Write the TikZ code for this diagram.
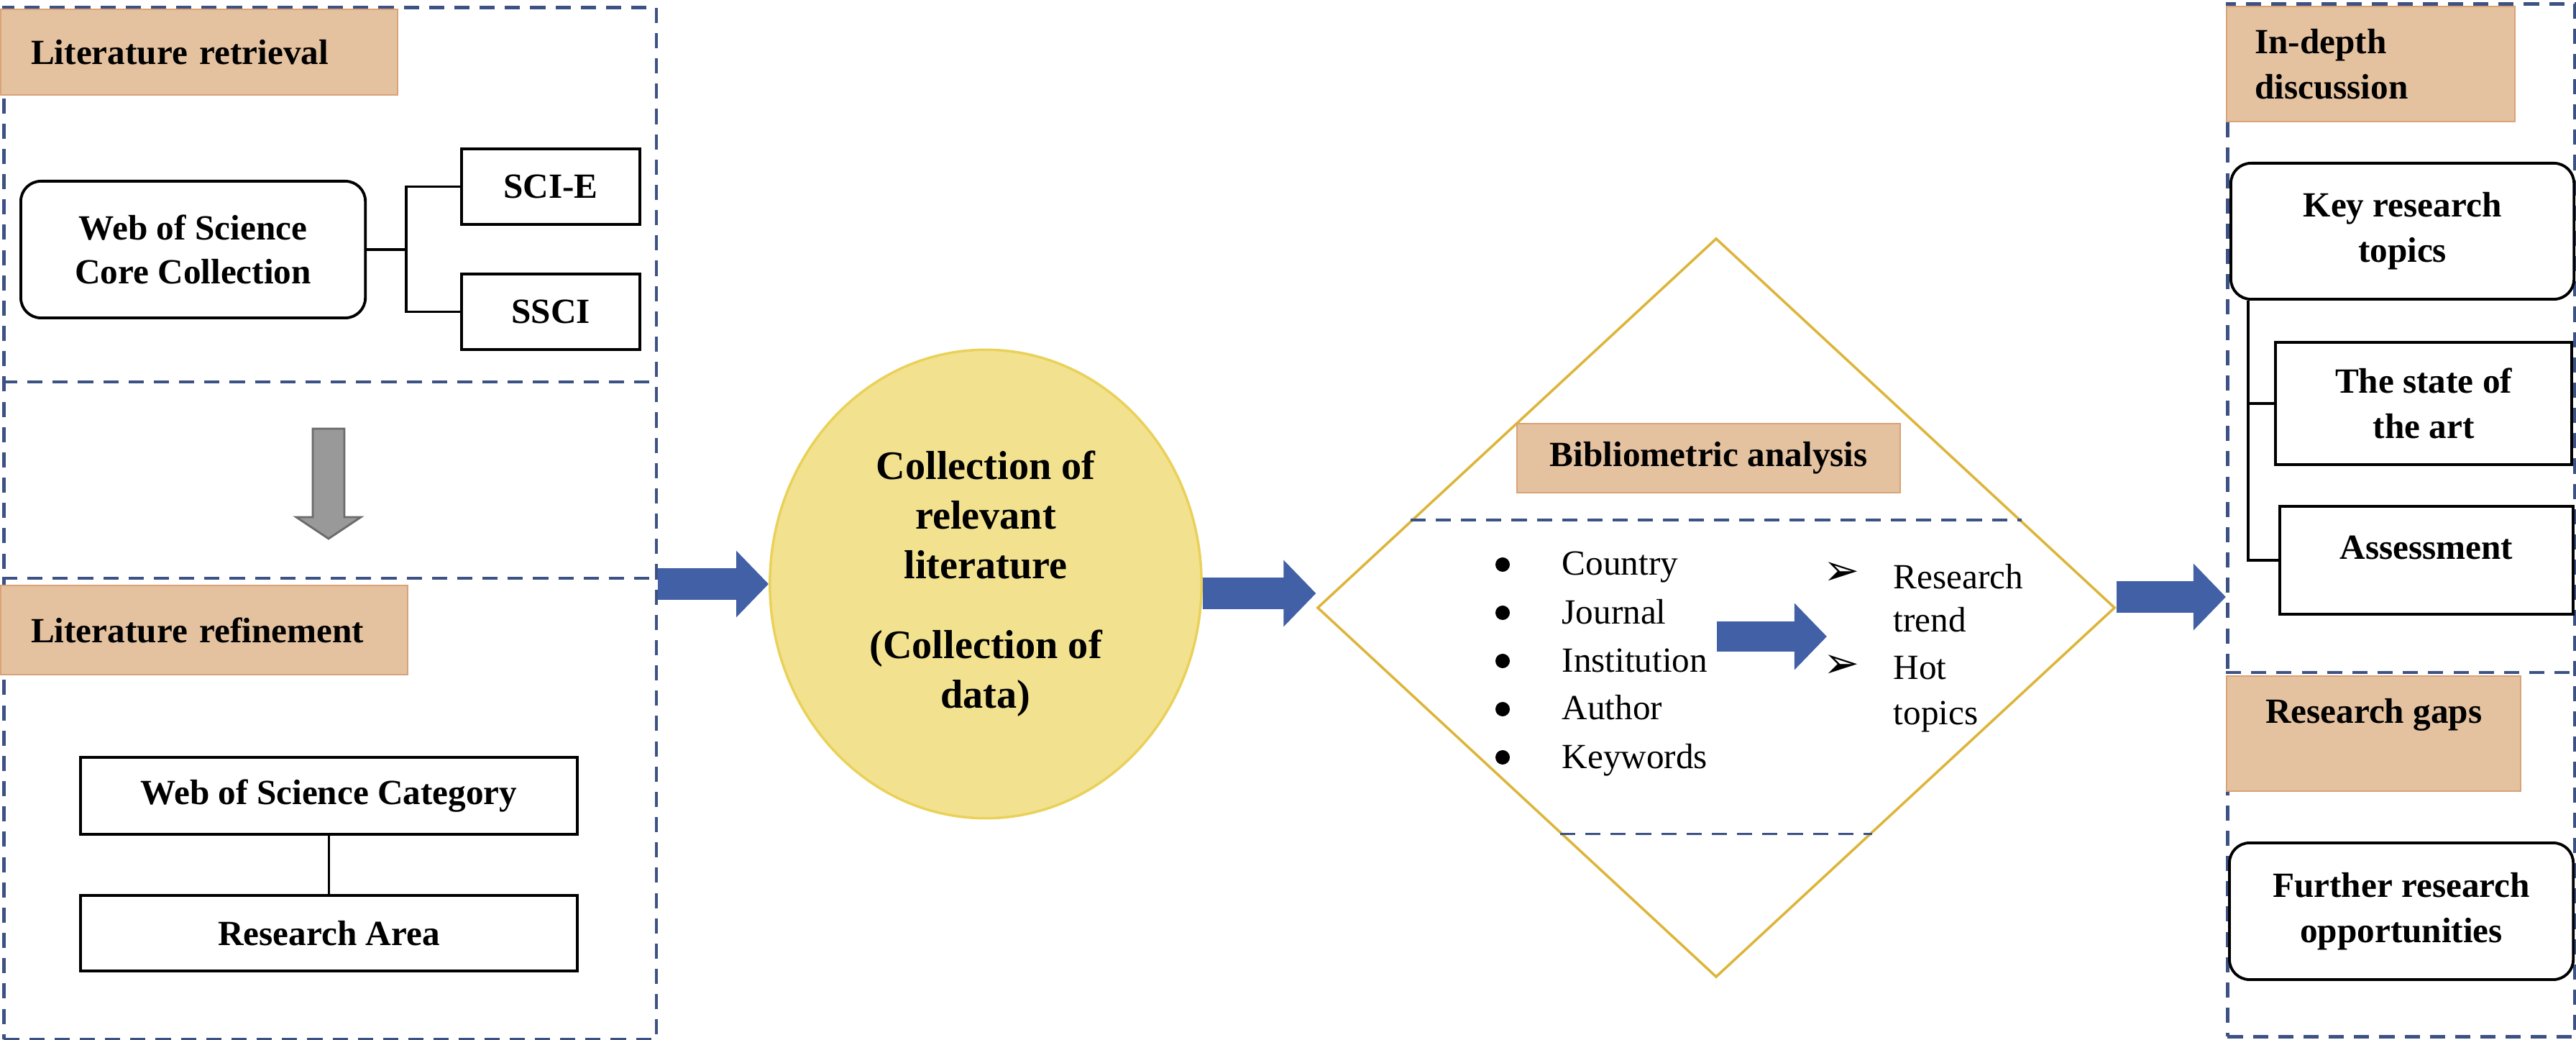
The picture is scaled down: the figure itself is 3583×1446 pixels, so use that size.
\documentclass[tikz,border=0pt]{standalone}
\usepackage{fontspec}
\setmainfont{Liberation Serif}
\newfontfamily\symfont{DejaVu Sans}
\usetikzlibrary{arrows.meta, shapes.geometric, calc}
\definecolor{tanfill}{HTML}{E5C29F}
\definecolor{tanline}{HTML}{D9A277}
\definecolor{dashblue}{HTML}{3D5284}
\definecolor{arrowblue}{HTML}{4260A5}
\definecolor{sunfill}{HTML}{F2E290}
\definecolor{sunline}{HTML}{EAD15A}
\definecolor{diamline}{HTML}{DDB53A}
\definecolor{arrowgray}{HTML}{999999}
\newcommand{\boxfont}{\fontsize{14}{18}\selectfont\bfseries}

\begin{document}
\begin{tikzpicture}[x=0.01cm, y=-0.01cm,
    panelbox/.style={draw=dashblue, line width=1.4pt, dash pattern=on 6pt off 4pt, inner sep=0, anchor=north west},
    splitline/.style={dashblue, line width=1.4pt, dash pattern=on 6pt off 4pt},
    tanbox/.style={draw=tanline, fill=tanfill, line width=0.6pt, inner sep=0, anchor=north west, font=\boxfont},
    plainbox/.style={draw=black, line width=1.1pt, inner sep=0, anchor=north west, align=center, font=\boxfont},
    roundbox/.style={plainbox, rounded corners=0.28cm},
    bigarrow/.style={arrowblue, line width=0.44cm, -{Triangle[length=0.45cm, width=0.9cm]}},
    listtext/.style={font=\fontsize{14}{18}\selectfont, inner sep=0, anchor=base west},
    bulletdot/.style={circle, fill=black, inner sep=0, minimum size=0.2cm},
    linkline/.style={line width=1pt}
  ]
  \useasboundingbox (0,0) rectangle (3583,1446);

  % Left panel: retrieval and refinement
  \node[panelbox, minimum width=9.07cm, minimum height=14.34cm] (panelL) at (3,8) {};
  \draw[splitline] (3,531) -- (910,531);
  \draw[splitline] (3,804) -- (910,804);

  \node[tanbox, minimum width=5.52cm, minimum height=1.19cm, text width=4.68cm, inner xsep=0.42cm, align=left] (litret) at (0,12) {Literature retrieval};
  \node[roundbox, minimum width=4.79cm, minimum height=1.90cm, font=\fontsize{14}{17.5}\selectfont\bfseries] (wos) at (27,250) {Web of Science\\Core Collection};
  \node[plainbox, minimum width=2.48cm, minimum height=1.05cm] (scie) at (640,205) {SCI-E};
  \node[plainbox, minimum width=2.48cm, minimum height=1.05cm] (ssci) at (640,379) {SSCI};
  \draw[linkline] (wos.east) -- ++(55,0) coordinate (fork);
  \draw[linkline] (scie.west) -| (fork) |- (ssci.west);

  % Grey arrow between the two steps
  \draw[draw=arrowgray!70!black, fill=arrowgray, line width=0.8pt] (435,596) -- (479,596) -- (479,719) -- (502,719) -- (457,749) -- (412,719) -- (435,719) -- cycle;

  \node[tanbox, minimum width=5.66cm, minimum height=1.24cm, text width=4.82cm, inner xsep=0.42cm, align=left] (litref) at (0,813) {Literature refinement};
  \node[plainbox, minimum width=6.91cm, minimum height=1.07cm] (wosc) at (110,1051) {Web of Science Category};
  \node[plainbox, minimum width=6.91cm, minimum height=1.05cm] (resarea) at (110,1243) {Research Area};
  \draw[linkline] (wosc) -- (resarea);

  % Collected data
  \node[ellipse, draw=sunline, fill=sunfill, line width=1pt, minimum width=6cm, minimum height=6.51cm, inner sep=0, align=center, font=\fontsize{16}{19.6}\selectfont\bfseries] (collect) at (1371,812) {Collection of\\relevant\\literature\\[12pt](Collection of\\data)};

  % Bibliometric analysis diamond
  \node[diamond, draw=diamline, line width=1pt, minimum width=11.09cm, minimum height=10.27cm, inner sep=0] (diam) at (2387,845) {};
  \node[tanbox, minimum width=5.33cm, minimum height=0.96cm] (biblio) at (2109,588) {Bibliometric analysis};
  \draw[splitline, line width=1.1pt] ($(diam.north)!0.764!(diam.west)$) -- ($(diam.north)!0.764!(diam.east)$);
  \draw[splitline, line width=1.1pt] ($(diam.south)!0.39!(diam.west)$) -- ($(diam.south)!0.39!(diam.east)$);

  \foreach \w [count=\i] in {Country,Journal,Institution,Author,Keywords} {
    \node[bulletdot] (dot\i) at (2090, {785+67*(\i-1)}) {};
    \node[listtext] (item\i) at (2172, {800+67*(\i-1)}) {\w};
  }
  \coordinate (listout) at (2388,885);
  \coordinate (trendin) at (2541,885);
  \draw[bigarrow, line width=0.42cm] (listout) -- (trendin);

  \node[font=\symfont\fontsize{17}{17}\selectfont, inner sep=0] (mark1) at (2562,798) {➢};
  \node[font=\symfont\fontsize{17}{17}\selectfont, inner sep=0] (mark2) at (2562,927) {➢};
  \foreach \w/\y in {Research/818,trend/879,Hot/944,topics/1007}
    \node[listtext] (\w) at (2633,\y) {\w};

  % Right panel: discussion and gaps
  \node[panelbox, minimum width=4.83cm, minimum height=14.35cm] (panelR) at (3096,3) {};
  \draw[splitline] (3096,935) -- (3579,935);

  \node[tanbox, minimum width=4.01cm, minimum height=1.60cm, text width=3.23cm, inner xsep=0.39cm, align=left] (depth) at (3096,8) {In-depth\\discussion};
  \node[roundbox, minimum width=4.77cm, minimum height=1.89cm] (keytop) at (3101,225) {Key research\\topics};
  \node[plainbox, minimum width=4.12cm, minimum height=1.70cm] (stateart) at (3163,474) {The state of\\the art};
  \node[plainbox, minimum width=4.08cm, minimum height=1.50cm] (assess) at (3169,702) {\raisebox{0.36cm}{Assessment}};
  \draw[linkline] ([xshift=0.26cm]keytop.south west) |- (stateart.west);
  \draw[linkline] ([xshift=0.26cm]keytop.south west) |- (assess.west);

  \node[tanbox, minimum width=4.09cm, minimum height=1.60cm, align=center] (gaps) at (3096,939) {Research gaps\\~};
  \node[roundbox, minimum width=4.78cm, minimum height=1.90cm] (further) at (3099,1170) {Further research\\opportunities};

  % Flow arrows
  \coordinate (c2) at ([yshift=-0.13cm]collect.east);
  \coordinate (c3) at ([yshift=0.15cm]diam.east);
  \draw[bigarrow] (panelL.east |- collect.west) -- (collect.west);
  \draw[bigarrow] (c2) -- (c2 -| diam.west);
  \draw[bigarrow] (c3) -- (c3 -| panelR.west);
\end{tikzpicture}
\end{document}
